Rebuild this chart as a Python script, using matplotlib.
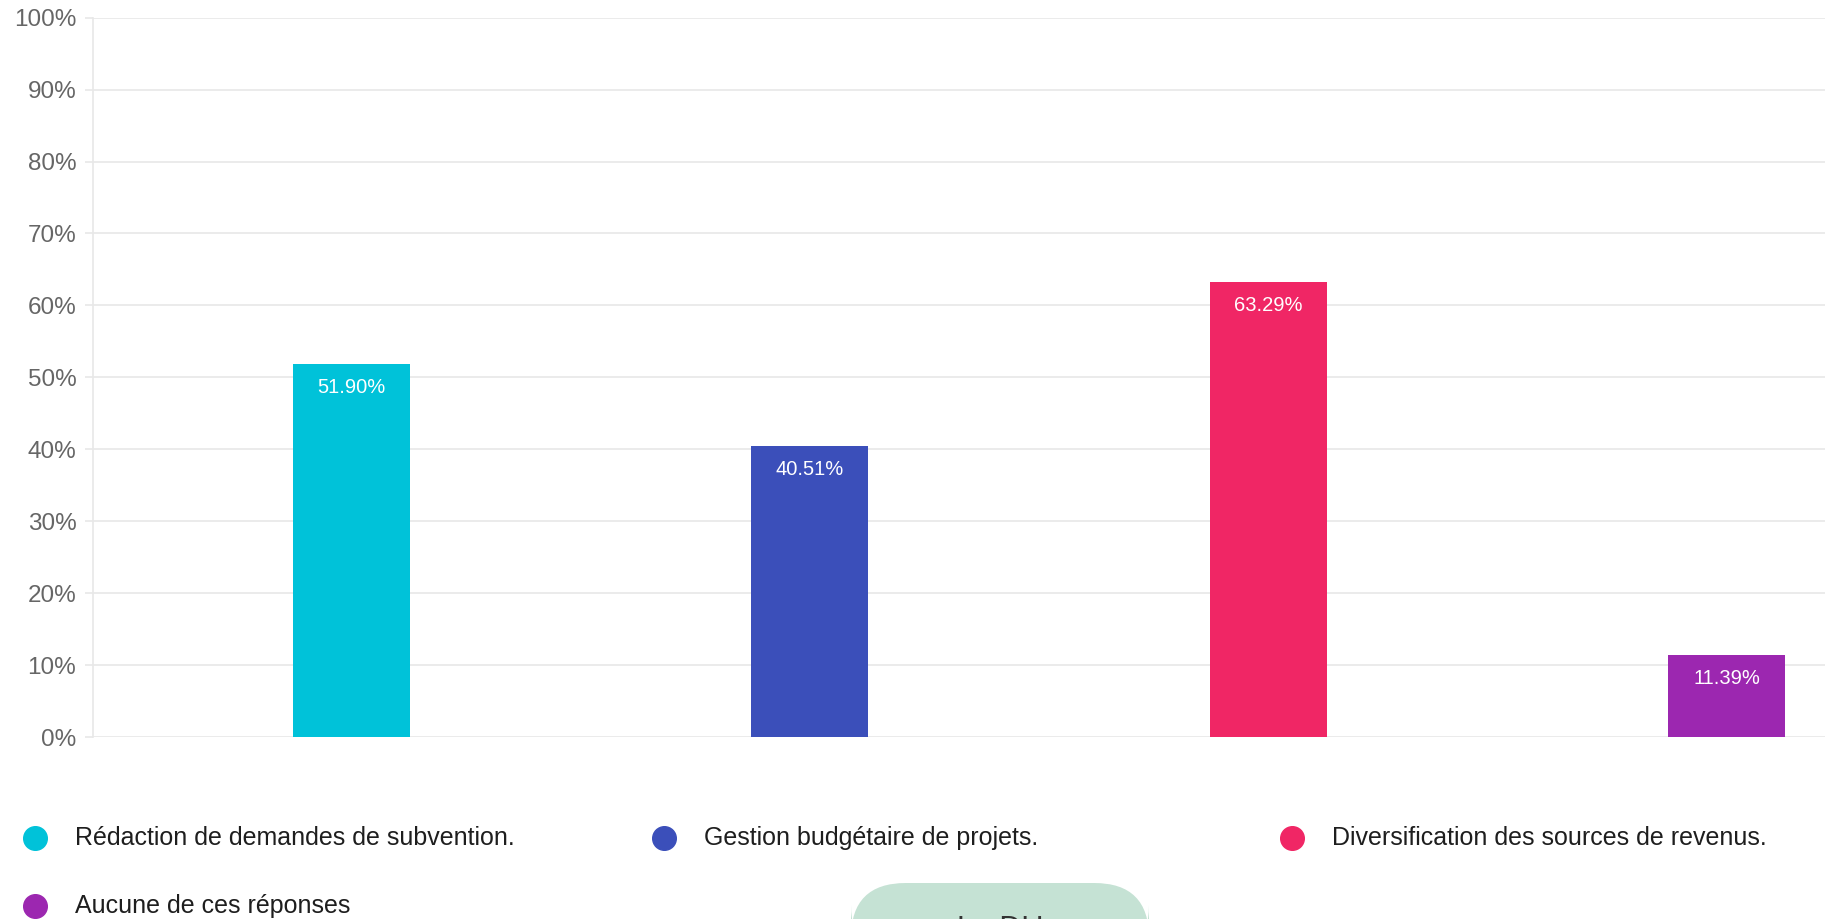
import matplotlib
matplotlib.use("Agg")
import matplotlib.pyplot as plt
from matplotlib.patches import FancyBboxPatch
from matplotlib.lines import Line2D

plt.rcParams['font.family'] = ['Liberation Sans', 'DejaVu Sans']

categories = [
    "Rédaction de demandes de subvention.",
    "Gestion budgétaire de projets.",
    "Diversification des sources de revenus.",
    "Aucune de ces réponses",
]
values = [51.90, 40.51, 63.29, 11.39]
colors = ["#00C2D9", "#3B4FBA", "#F02665", "#9C27B0"]
yticks = [0, 10, 20, 30, 40, 50, 60, 70, 80, 90, 100]

W, H = 1825, 919
fig = plt.figure(figsize=(W / 100, H / 100), dpi=100)
ax = fig.add_axes([93 / W, 1 - 737 / H, 1 - 93 / W, (737 - 17.7) / H])

x = list(range(len(values)))
bars = ax.bar(x, values, width=0.255, color=colors, zorder=3)
for xi, v in zip(x, values):
    ax.annotate(f"{v:.2f}%", (xi, v), xytext=(0, -17), textcoords="offset points",
                ha="center", va="center", color="white", fontsize=14.5, zorder=4)

ax.set_xlim(-0.5636, 3.215)
ax.set_ylim(0, 100)
ax.set_yticks(yticks)
ax.set_yticklabels([f"{t}%" for t in yticks], color="#666666", fontsize=17.5)
ax.set_xticks([])
ax.grid(axis="y", color="#e8e8e8", linewidth=1.2, zorder=0)
ax.tick_params(axis="y", length=6, color="#e8e8e8", width=1.2, pad=6)
for side in ("top", "right", "bottom"):
    ax.spines[side].set_visible(False)
ax.spines["left"].set_color("#e8e8e8")
ax.spines["left"].set_linewidth(1.2)

# legend laid out in three columns
legend_pos = [(35, 838), (663.5, 838), (1292, 838), (35, 905.5)]
for (px, py), label, c in zip(legend_pos, categories, colors):
    fig.add_artist(Line2D([px / W], [1 - py / H], marker="o", markersize=17,
                          color=c, linestyle="none", transform=fig.transFigure))
    fig.text((px + 40) / W, 1 - py / H, label, fontsize=18, color="#1e1e1e",
             ha="left", va="center")

# button at the bottom edge, only its top part falls inside the figure
btn = FancyBboxPatch((851 / W, 1 - 960 / H), 298 / W, 77 / H,
                     boxstyle="round,pad=0,rounding_size=0.03",
                     transform=fig.transFigure, facecolor="#C5E2D4",
                     edgecolor="none", mutation_aspect=W / H)
fig.add_artist(btn)
fig.text(1000 / W, 1 - 915 / H, "Le DU", fontsize=22, color="#333333",
         ha="center", va="top")

fig.savefig("out.png", dpi=100)
